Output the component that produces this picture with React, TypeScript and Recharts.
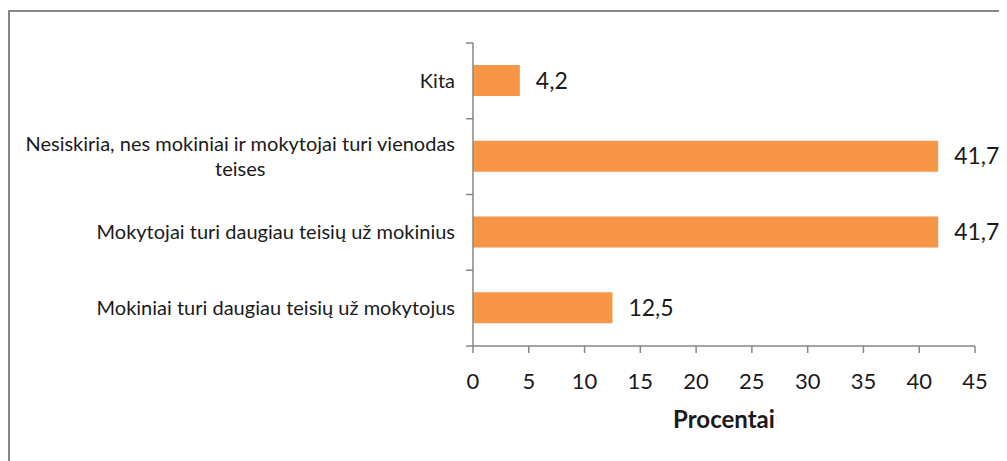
import React, { useLayoutEffect, useRef, useState } from 'react';
import { BarChart, Bar, XAxis, YAxis, LabelList } from 'recharts';

const categories: string[] = [
  'Kita',
  'Nesiskiria, nes mokiniai ir mokytojai turi vienodas teises',
  'Mokytojai turi daugiau teisių už mokinius',
  'Mokiniai turi daugiau teisių už mokytojus',
];
const categoryLines: string[][] = [
  ['Kita'],
  ['Nesiskiria, nes mokiniai ir mokytojai turi vienodas', 'teises'],
  ['Mokytojai turi daugiau teisių už mokinius'],
  ['Mokiniai turi daugiau teisių už mokytojus'],
];
const values: number[] = [4.2, 41.7, 41.7, 12.5];
const xTicks: number[] = [0, 5, 10, 15, 20, 25, 30, 35, 40, 45];
const axisTitle = 'Procentai';

const data = categories.map((c, i) => ({ name: c, value: values[i], idx: i }));

const FONT = 'Lato, "Open Sans", sans-serif';
const TEXT = '#1a1a1a';
const AXIS = '#868686';
const BAR = '#F79646';
const TICK_SIZE = 7;
const TICK_MARGIN = 11;
const CAT_FONT = 20;
const LINE_H = 25;

const CategoryTick = (props: any) => {
  const { x, y, payload, index } = props;
  const lines = categoryLines[payload.index ?? index] || [String(payload.value)];
  const ref = useRef<SVGTextElement>(null);
  const [w, setW] = useState(0);
  useLayoutEffect(() => {
    if (ref.current) setW(ref.current.getComputedTextLength());
  }, []);
  const axisX = x + TICK_SIZE + TICK_MARGIN;
  const off = payload.offset ?? 0;
  const n = lines.length;
  const isLast = (payload.index ?? index) === categories.length - 1;
  return (
    <g>
      <line x1={axisX - TICK_SIZE} x2={axisX} y1={y - off} y2={y - off} stroke={AXIS} strokeWidth={1.5} />
      {isLast && (
        <line x1={axisX - TICK_SIZE} x2={axisX} y1={y + off} y2={y + off} stroke={AXIS} strokeWidth={1.5} />
      )}
      {lines.map((ln, i) => {
        const ly = y + (i - (n - 1) / 2) * LINE_H;
        if (i === 0) {
          return (
            <text key={i} ref={ref} x={x} y={ly} dy="0.355em" textAnchor="end" fontSize={CAT_FONT} fontFamily={FONT} fill={TEXT}>
              {ln}
            </text>
          );
        }
        return (
          <text key={i} x={x - w / 2} y={ly} dy="0.355em" textAnchor="middle" fontSize={CAT_FONT} fontFamily={FONT} fill={TEXT}>
            {ln}
          </text>
        );
      })}
    </g>
  );
};

export default function App() {
  return (
    <div style={{ paddingTop: 2 }}>
      <div
        style={{
          width: 999,
          height: 451,
          boxSizing: 'border-box',
          borderTop: `2px solid ${AXIS}`,
          borderLeft: `2px solid ${AXIS}`,
          background: '#fff',
        }}
      >
        <BarChart
          width={997}
          height={449}
          data={data}
          layout="vertical"
          margin={{ top: 31, right: 32, bottom: 0, left: 0 }}
        >
          <XAxis
            type="number"
            domain={[0, 45]}
            ticks={xTicks}
            interval={0}
            height={115}
            tickSize={TICK_SIZE}
            tickMargin={20}
            axisLine={{ stroke: AXIS, strokeWidth: 1.5 }}
            tickLine={{ stroke: AXIS, strokeWidth: 1.5 }}
            tick={{ fontSize: 22, fontFamily: FONT, fill: TEXT }}
            label={{
              value: axisTitle,
              position: 'insideTop',
              offset: 65,
              style: { fontSize: 24, fontWeight: 700, fontFamily: FONT, fill: TEXT },
            }}
          />
          <YAxis
            type="category"
            dataKey="name"
            width={463}
            interval={0}
            tickSize={TICK_SIZE}
            tickMargin={TICK_MARGIN}
            tickLine={false}
            axisLine={{ stroke: AXIS, strokeWidth: 1.5 }}
            tick={<CategoryTick />}
          />
          <Bar dataKey="value" fill={BAR} barSize={31} isAnimationActive={false}>
            <LabelList
              dataKey="value"
              position="right"
              offset={16}
              formatter={(v: any) => String(v).replace('.', ',')}
              style={{ fontSize: 23, fontFamily: FONT, fill: TEXT }}
            />
          </Bar>
        </BarChart>
      </div>
    </div>
  );
}
